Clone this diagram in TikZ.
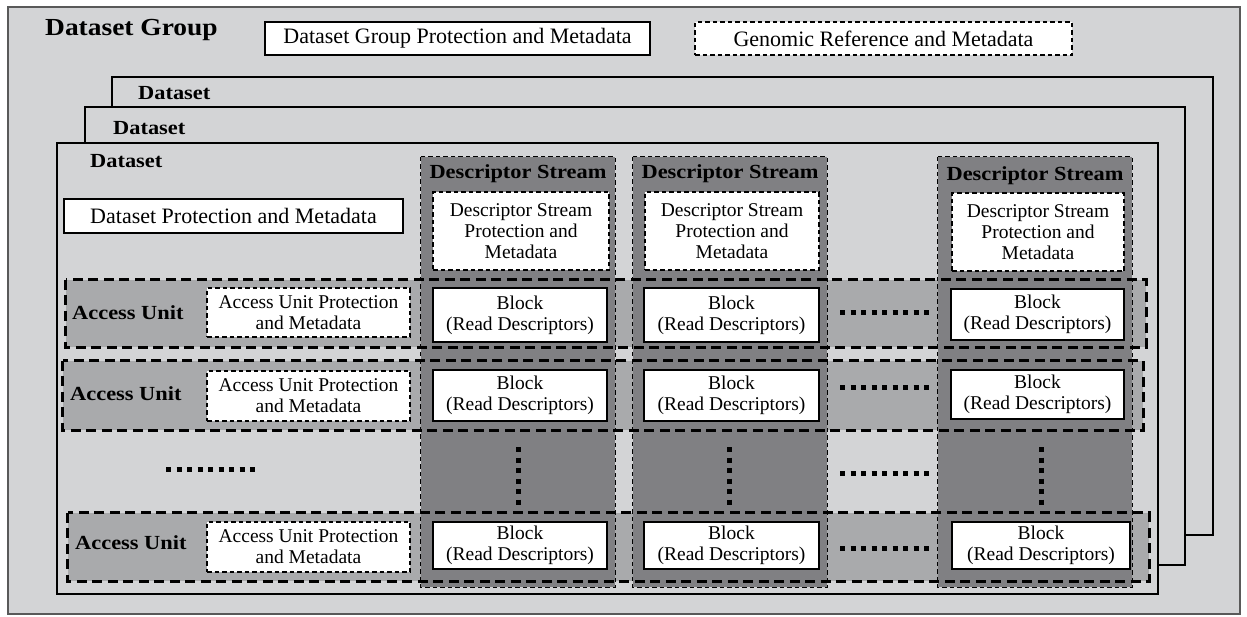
\documentclass[tikz,border=0pt]{standalone}
\usepackage{fontspec}
\setmainfont{Liberation Serif}[BoldFeatures={FakeStretch=1.12}]
\usepackage{tikz}
\usetikzlibrary{positioning}
\newcommand{\bodysize}{\fontsize{19.5}{21}\selectfont}
\newcommand{\topsize}{\fontsize{22}{24}\selectfont}
\newcommand{\headsize}{\fontsize{20}{22}\selectfont}
\newcommand{\groupsize}{\fontsize{24.5}{26}\selectfont}
\definecolor{groupgray}{HTML}{D3D4D6}
\definecolor{unitgray}{HTML}{A9AAAC}
\definecolor{streamgray}{HTML}{808083}
\tikzstyle{datasetbox}=[draw=black,fill=groupgray,line width=1.4pt,inner sep=0pt]
\tikzstyle{unitfill}=[fill=unitgray,inner sep=0pt]
\tikzstyle{streamfill}=[fill=streamgray,inner sep=0pt]
\tikzstyle{unitborder}=[line width=2.9pt,dash pattern=on 10pt off 5.5pt]
\tikzstyle{streamborder}=[line width=1.2pt,dash pattern=on 4.5pt off 3pt]
\tikzstyle{solidbox}=[draw=black,fill=white,line width=1.3pt,inner sep=0pt,align=center,font=\bodysize]
\tikzstyle{metabox}=[solidbox,dash pattern=on 4.5pt off 3pt,line width=1.2pt]
\tikzstyle{heading}=[font=\headsize\bfseries,inner sep=0pt]
\tikzstyle{dots}=[line width=5pt,dash pattern=on 5pt off 5.5pt]

\begin{document}
\begin{tikzpicture}[x=1pt,y=-1pt]
  \useasboundingbox (0,0) rectangle (1247,616);

  % dataset group
  \node[datasetbox,draw=black!65,line width=1.2pt,minimum width=1232pt,minimum height=607pt] (group) at (624,310.5) {};
  \node[heading,font=\groupsize\bfseries,anchor=west] (grouplbl) at (45,30) {Dataset Group};
  \node[solidbox,font=\topsize,minimum width=385pt,minimum height=33pt] (groupmeta) at (457.5,38.5) {Dataset Group Protection and Metadata};
  \node[metabox,font=\topsize,minimum width=377pt,minimum height=33pt] (refmeta) at (883.5,38.5) {Genomic Reference and Metadata};

  % stacked datasets
  \node[datasetbox,minimum width=1101pt,minimum height=458pt] (set3) at (662.5,306) {};
  \node[heading,anchor=west] (set3lbl) at (138,93) {Dataset};
  \node[datasetbox,minimum width=1100pt,minimum height=458pt] (set2) at (635,336) {};
  \node[heading,anchor=west] (set2lbl) at (113,128) {Dataset};
  \node[datasetbox,line width=1.7pt,minimum width=1101pt,minimum height=451pt] (set1) at (607.5,368.5) {};
  \node[heading,anchor=west] (set1lbl) at (90,161.5) {Dataset};
  \node[solidbox,font=\topsize,minimum width=339pt,minimum height=34pt] (setmeta) at (233.5,216) {Dataset Protection and Metadata};

  % access units and descriptor streams
  \node[unitfill,minimum width=1080pt,minimum height=67pt] (unit1) at (606,313.5) {};
  \node[unitfill,minimum width=1080pt,minimum height=69pt] (unit2) at (603,395.5) {};
  \node[unitfill,minimum width=1081pt,minimum height=68pt] (unit3) at (608.5,547) {};
  \node[streamfill,minimum width=194pt,minimum height=430pt] (stream1) at (518,372) {};
  \node[streamfill,minimum width=194pt,minimum height=430pt] (stream2) at (730,372) {};
  \node[streamfill,minimum width=194pt,minimum height=430pt] (stream3) at (1035,372) {};
  \draw[streamborder] (stream1.north west) rectangle (stream1.south east);
  \draw[streamborder] (stream2.north west) rectangle (stream2.south east);
  \draw[streamborder] (stream3.north west) rectangle (stream3.south east);
  \draw[unitborder] (unit1.north west) rectangle (unit1.south east);
  \draw[unitborder] (unit2.north west) rectangle (unit2.south east);
  \draw[unitborder] (unit3.north west) rectangle (unit3.south east);

  \node[heading,below=8pt of stream1.north] (title1) {Descriptor Stream};
  \node[heading,below=8pt of stream2.north] (title2) {Descriptor Stream};
  \node[heading,below=10pt of stream3.north] (title3) {Descriptor Stream};
  \node[metabox,minimum width=176pt,minimum height=78pt] (smeta1) at (521,231) {Descriptor Stream\\Protection and\\Metadata};
  \node[metabox,minimum width=174pt,minimum height=78pt] (smeta2) at (732,231) {Descriptor Stream\\Protection and\\Metadata};
  \node[metabox,minimum width=172pt,minimum height=78pt] (smeta3) at (1038,232) {Descriptor Stream\\Protection and\\Metadata};

  \node[heading,anchor=west] (unit1lbl) at (72,313) {Access Unit};
  \node[heading,anchor=west] (unit2lbl) at (70,394) {Access Unit};
  \node[heading,anchor=west] (unit3lbl) at (75,543) {Access Unit};
  \node[metabox,minimum width=203pt,minimum height=49pt] (umeta1) at (308.5,312.5) {Access Unit Protection\\and Metadata};
  \node[metabox,minimum width=203pt,minimum height=50pt] (umeta2) at (308.5,396) {Access Unit Protection\\and Metadata};
  \node[metabox,minimum width=203pt,minimum height=50pt] (umeta3) at (308.5,547) {Access Unit Protection\\and Metadata};

  % blocks
  \node[solidbox,minimum width=174pt,minimum height=54pt] (block11) at (520,315) {Block\\(Read Descriptors)};
  \node[solidbox,minimum width=175pt,minimum height=54pt] (block12) at (731.5,315) {Block\\(Read Descriptors)};
  \node[solidbox,minimum width=173pt,minimum height=51pt] (block13) at (1037.5,314.5) {Block\\(Read Descriptors)};
  \node[solidbox,minimum width=174pt,minimum height=51pt] (block21) at (520,395.5) {Block\\(Read Descriptors)};
  \node[solidbox,minimum width=175pt,minimum height=51pt] (block22) at (731.5,395.5) {Block\\(Read Descriptors)};
  \node[solidbox,minimum width=173pt,minimum height=49pt] (block23) at (1037.5,394.5) {Block\\(Read Descriptors)};
  \node[solidbox,minimum width=174pt,minimum height=47pt] (block31) at (520,545.5) {Block\\(Read Descriptors)};
  \node[solidbox,minimum width=175pt,minimum height=47pt] (block32) at (731.5,545.5) {Block\\(Read Descriptors)};
  \node[solidbox,minimum width=178pt,minimum height=47pt] (block33) at (1041,545.5) {Block\\(Read Descriptors)};

  % continuation dots
  \draw[dots] (166,469) -- (256,469);
  \draw[dots] (840,312) -- (929,312);
  \draw[dots] (840,387) -- (929,387);
  \draw[dots] (840,473) -- (929,473);
  \draw[dots] (840,548) -- (929,548);
  \draw[dots] (518,447) -- (518,505);
  \draw[dots] (729,447) -- (729,505);
  \draw[dots] (1041,447) -- (1041,505);
\end{tikzpicture}
\end{document}
